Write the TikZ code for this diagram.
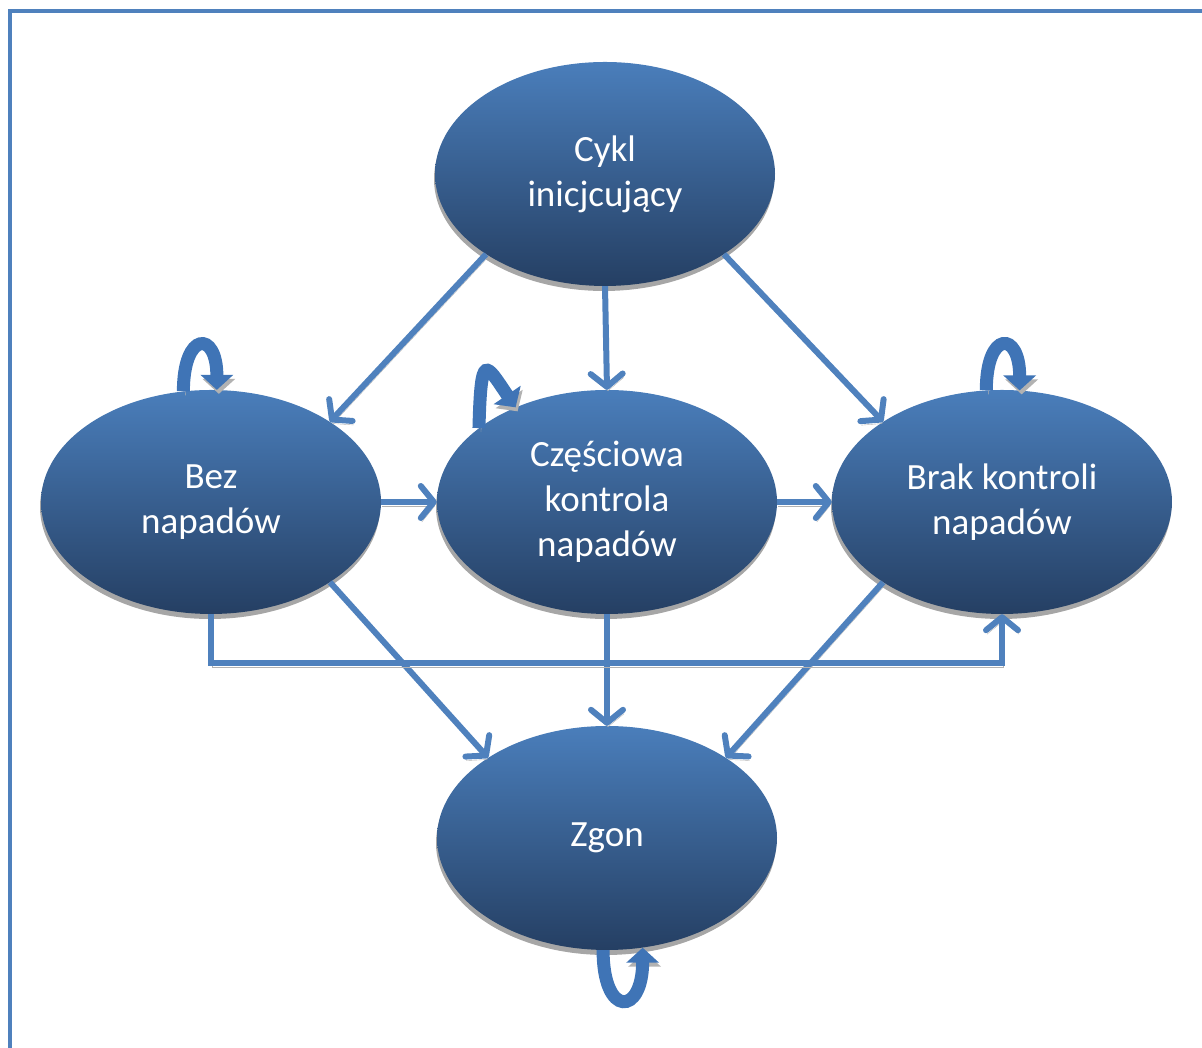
\documentclass[tikz,border=0pt]{standalone}
\usepackage{fontspec}
\setmainfont{Carlito}
\usepackage{tikz}
\usetikzlibrary{shapes.geometric,arrows.meta,shadows}

\definecolor{ellTop}{HTML}{4A7EBB}
\definecolor{ellBot}{HTML}{253F63}
\definecolor{flowBlue}{HTML}{4F81BD}
\definecolor{loopBlue}{HTML}{3F74B6}

\tikzset{
  state/.style={ellipse, minimum width=340pt, minimum height=224pt, inner sep=0pt,
    top color=ellTop, bottom color=ellBot, text=white, align=center,
    font=\fontsize{37}{45}\selectfont,
    drop shadow={shadow xshift=-1pt, shadow yshift=-5pt, fill=black!35, opacity=1}},
  flow/.style={draw=flowBlue, line width=6pt,
    -{Straight Barb[length=13pt,width=32pt,round]},
    preaction={draw=black!30, transform canvas={xshift=1pt,yshift=-4pt}}},
  selfloop/.style={draw=loopBlue, line width=13pt, -{Triangle[length=15pt,width=32pt]},
    preaction={draw=black!30, transform canvas={xshift=2pt,yshift=-4pt}}}
}

\begin{document}
\begin{tikzpicture}[x=1pt, y=1pt]
    \useasboundingbox (0,0) rectangle (1202,1048);
    \draw[flowBlue, line width=4pt] (9.5,0) -- (9.5,1036.5) -- (1202,1036.5);

    % states
    \node[state] (cyc)  at (605,874)  {Cykl\\inicjcujący};
    \node[state] (bez)  at (211,546)  {Bez\\napadów};
    \node[state] (cze)  at (607,546)  {Częściowa\\kontrola\\napadów};
    \node[state] (brak) at (1002,546) {Brak kontroli\\napadów};
    \node[state] (zgon) at (607,210)  {Zgon};

    % transitions
    \draw[flow] (cyc.214) -- (bez.34);
    \draw[flow] (cyc.south) -- (cze.north);
    \draw[flow] (cyc.326) -- (brak.146);
    \draw[flow] (bez.east) -- (cze.west);
    \draw[flow] (cze.east) -- (brak.west);
    \draw[flow] (bez.326) -- (zgon.146);
    \draw[flow] (cze.south) -- (zgon.north);
    \draw[flow] (brak.214) -- (zgon.34);
    \draw[flow] (bez.south) -- ++(0,-49) -| (brak.south);

    % self loops
    \draw[selfloop] (bez.104) .. controls +(0,60) and +(0,60) .. (bez.87);
    \draw[selfloop] (brak.98) .. controls +(0,60) and +(0,60) .. (brak.81);
    \draw[selfloop] (cze.150) .. controls +(2,78) and +(-30,44) .. (cze.134);
    \draw[selfloop] (zgon.268) .. controls +(0,-68) and +(0,-68) .. (zgon.288);
\end{tikzpicture}
\end{document}
